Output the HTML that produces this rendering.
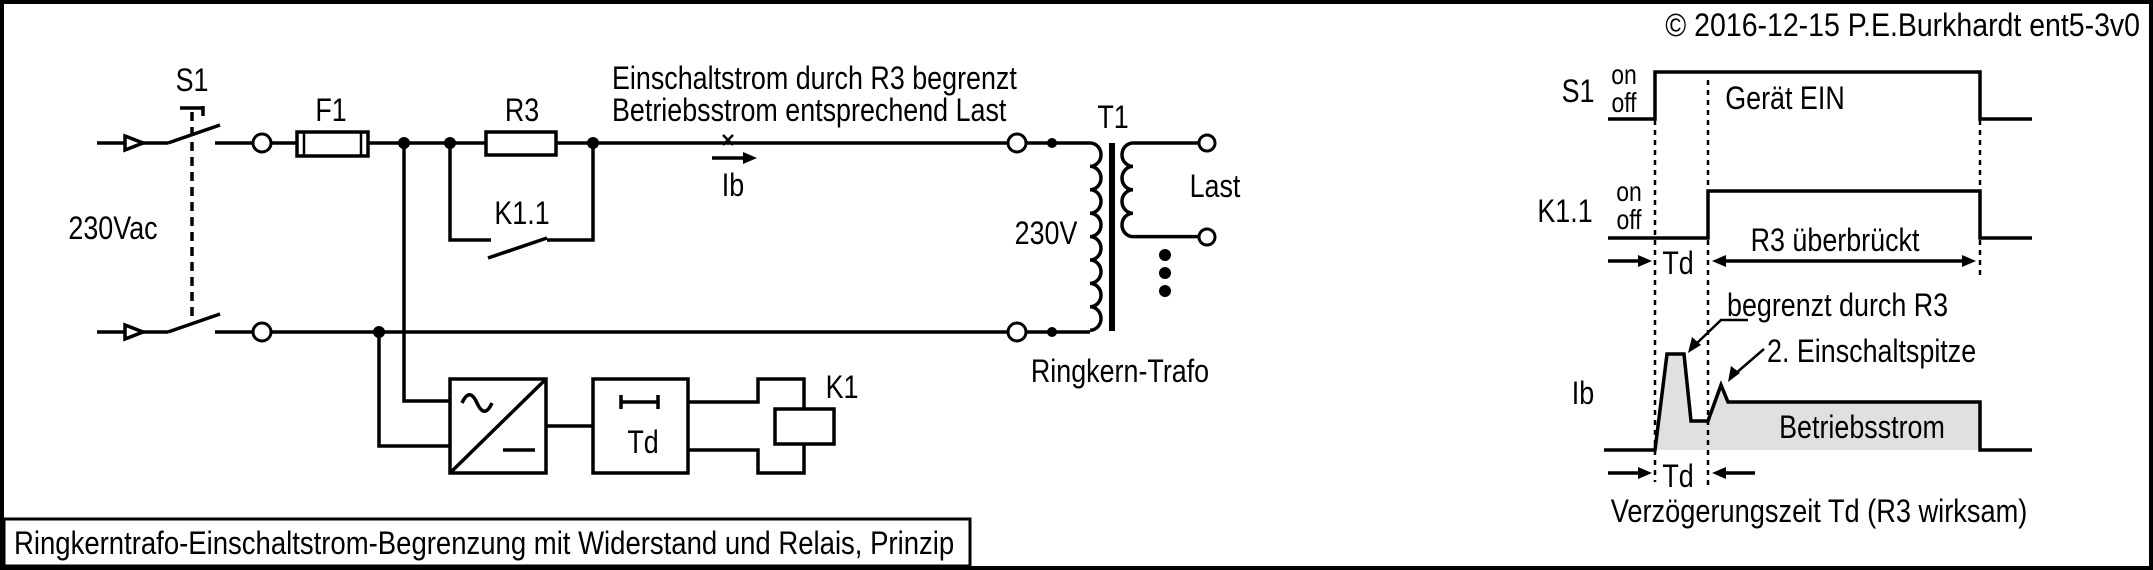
<!DOCTYPE html>
<html><head><meta charset="utf-8"><style>
html,body{margin:0;padding:0;background:#fff}
svg{display:block}
text{font-family:"Liberation Sans Narrow","Liberation Sans",sans-serif;fill:#000}
</style></head><body>
<svg width="2153" height="570" viewBox="0 0 2153 570" xmlns="http://www.w3.org/2000/svg">
<rect x="2" y="2" width="2149" height="566" fill="#fff" stroke="#000" stroke-width="4"/>
<g stroke="#000" stroke-width="3.5" fill="none" stroke-linecap="butt">
<line x1="97" y1="143" x2="168" y2="143"/><polygon points="125,136 143,143 125,150" fill="#fff"/>
<line x1="97" y1="332" x2="168" y2="332"/><polygon points="125,325 143,332 125,339" fill="#fff"/>
<line x1="168" y1="143" x2="220" y2="125"/>
<line x1="168" y1="332" x2="220" y2="314"/>
<line x1="192" y1="112" x2="192" y2="322" stroke-dasharray="9,6"/>
<line x1="180" y1="108" x2="204" y2="108"/><line x1="203" y1="106" x2="203" y2="116"/>
<line x1="215" y1="143" x2="253" y2="143"/>
<line x1="271" y1="143" x2="297" y2="143"/>
<rect x="297" y="132" width="71" height="24"/>
<line x1="304" y1="132" x2="304" y2="156" stroke-width="2.5"/><line x1="361" y1="132" x2="361" y2="156" stroke-width="2.5"/>
<line x1="368" y1="143" x2="486" y2="143"/>
<rect x="486" y="132" width="70" height="23"/>
<line x1="556" y1="143" x2="1008" y2="143"/>
<line x1="1026" y1="143" x2="1090" y2="143"/>
<line x1="215" y1="332" x2="253" y2="332"/>
<line x1="271" y1="332" x2="1008" y2="332"/>
<line x1="1026" y1="332" x2="1090" y2="332"/>
<polyline points="450,143 450,240 491,240"/>
<polyline points="593,143 593,240 547,240"/>
<line x1="488" y1="258" x2="547" y2="238"/>
<polyline points="404,143 404,401 450,401"/>
<polyline points="379,332 379,446 450,446"/>
<rect x="450" y="379" width="96" height="94"/>
<line x1="450" y1="473" x2="546" y2="379"/>
<path d="M462,403 c5,-11 10,-11 15,0 c5,11 10,11 15,0"/>
<line x1="503" y1="450" x2="535" y2="450"/>
<line x1="546" y1="426" x2="593" y2="426"/>
<rect x="593" y="379" width="95" height="94"/>
<line x1="621" y1="402" x2="658" y2="402"/><line x1="621" y1="395" x2="621" y2="409"/><line x1="658" y1="395" x2="658" y2="409"/>
<polyline points="688,402 758,402 758,379 804,379 804,409"/>
<polyline points="688,450 758,450 758,473 804,473 804,444"/>
<rect x="775" y="409" width="59" height="35"/>
<path d="M1090,143 a11,11.7 0 0 1 0,23.4 a11,11.7 0 0 1 0,23.4 a11,11.7 0 0 1 0,23.4 a11,11.7 0 0 1 0,23.4 a11,11.7 0 0 1 0,23.4 a11,11.7 0 0 1 0,23.4 a11,11.7 0 0 1 0,23.4 a11,11.7 0 0 1 0,23.4"/>
<line x1="1112" y1="143" x2="1112" y2="331" stroke-width="6"/>
<path d="M1133,143 a11,11.7 0 0 0 0,23.4 a11,11.7 0 0 0 0,23.4 a11,11.7 0 0 0 0,23.4 a11,11.7 0 0 0 0,23.4"/>
<line x1="1133" y1="143" x2="1199" y2="143"/>
<line x1="1133" y1="236.6" x2="1199" y2="236.6"/>
</g>
<g fill="#fff" stroke="#000" stroke-width="3">
<circle cx="262" cy="143" r="9"/><circle cx="262" cy="332" r="9"/>
<circle cx="1017" cy="143" r="9"/><circle cx="1017" cy="332" r="9"/>
<circle cx="1207" cy="143" r="8"/><circle cx="1207" cy="237" r="8"/>
</g>
<g fill="#000">
<circle cx="404" cy="143" r="6"/><circle cx="450" cy="143" r="6"/><circle cx="593" cy="143" r="6"/>
<circle cx="379" cy="332" r="6"/>
<circle cx="1052" cy="143" r="5"/><circle cx="1052" cy="332" r="5"/>
<circle cx="1165" cy="255" r="6"/><circle cx="1165" cy="273" r="6"/><circle cx="1165" cy="291" r="6"/>
</g>
<g stroke="#000" stroke-width="2.5"><line x1="723" y1="135" x2="733" y2="145"/><line x1="733" y1="135" x2="723" y2="145"/>
<line x1="712" y1="158" x2="745" y2="158" stroke-width="3.5"/></g>
<polygon points="743,152 757,158 743,164" fill="#000"/>
<g font-size="32">
<text transform="translate(192 91) scale(.84 1)" text-anchor="middle">S1</text>
<text transform="translate(331 121) scale(.84 1)" text-anchor="middle">F1</text>
<text transform="translate(522 121) scale(.84 1)" text-anchor="middle">R3</text>
<text transform="translate(522 224) scale(.84 1)" text-anchor="middle">K1.1</text>
<text transform="translate(612 89) scale(.84 1)">Einschaltstrom durch R3 begrenzt</text>
<text transform="translate(612 121) scale(.84 1)">Betriebsstrom entsprechend Last</text>
<text transform="translate(733 196) scale(.84 1)" text-anchor="middle">Ib</text>
<text transform="translate(113 239) scale(.84 1)" text-anchor="middle">230Vac</text>
<text transform="translate(1046 244) scale(.84 1)" text-anchor="middle">230V</text>
<text transform="translate(1113 128) scale(.84 1)" text-anchor="middle">T1</text>
<text transform="translate(1215 197) scale(.84 1)" text-anchor="middle">Last</text>
<text transform="translate(1120 382) scale(.84 1)" text-anchor="middle">Ringkern-Trafo</text>
<text transform="translate(643 453) scale(.84 1)" text-anchor="middle">Td</text>
<text transform="translate(842 398) scale(.84 1)" text-anchor="middle">K1</text>
<text transform="translate(2140 36) scale(.89 1)" text-anchor="end">© 2016-12-15 P.E.Burkhardt ent5-3v0</text>
</g>
<rect x="4" y="519" width="966" height="47" fill="#fff" stroke="#000" stroke-width="3"/>
<text transform="translate(14 554) scale(.86 1)" font-size="32">Ringkerntrafo-Einschaltstrom-Begrenzung mit Widerstand und Relais, Prinzip</text>
<path d="M1655,450 L1667,354 L1684,354 L1691,421 L1708,421 L1721,385 L1728,402 L1980,402 L1980,450 Z" fill="#e0e0e0"/>
<g stroke="#000" stroke-width="3.5" fill="none">
<polyline points="1608,119 1655,119 1655,72 1980,72 1980,119 2032,119"/>
<polyline points="1608,238 1708,238 1708,191 1980,191 1980,238 2032,238"/>
<polyline points="1604,450 1655,450 1667,354 1684,354 1691,421 1708,421 1721,385 1728,402 1980,402 1980,450 2032,450"/>
<g stroke-width="2.5" stroke-dasharray="5,5">
<line x1="1655" y1="120" x2="1655" y2="482"/>
<line x1="1708" y1="80" x2="1708" y2="488"/>
<line x1="1980" y1="120" x2="1980" y2="280"/>
</g>
<line x1="1608" y1="261" x2="1642" y2="261"/>
<line x1="1722" y1="261" x2="1966" y2="261"/>
<line x1="1608" y1="473" x2="1642" y2="473"/>
<line x1="1722" y1="473" x2="1755" y2="473"/>
<polyline points="1748,320 1721,320 1695,345" stroke-width="2.5"/>
<line x1="1764" y1="349" x2="1735" y2="374" stroke-width="2.5"/>
</g>
<g fill="#000">
<polygon points="1638,255 1652,261 1638,267"/>
<polygon points="1726,255 1712,261 1726,267"/>
<polygon points="1962,255 1976,261 1962,267"/>
<polygon points="1638,467 1652,473 1638,479"/>
<polygon points="1726,467 1712,473 1726,479"/>
<polygon points="1688,353 1692,337 1701,345"/>
<polygon points="1728,382 1731,366 1740,373"/>
</g>
<g font-size="32">
<text transform="translate(1578 102) scale(.84 1)" text-anchor="middle">S1</text>
<text transform="translate(1565 222) scale(.84 1)" text-anchor="middle">K1.1</text>
<text transform="translate(1785 109) scale(.84 1)" text-anchor="middle">Gerät EIN</text>
<text transform="translate(1835 251) scale(.84 1)" text-anchor="middle">R3 überbrückt</text>
<text transform="translate(1678 274) scale(.84 1)" text-anchor="middle">Td</text>
<text transform="translate(1727 316) scale(.84 1)">begrenzt durch R3</text>
<text transform="translate(1767 362) scale(.84 1)">2. Einschaltspitze</text>
<text transform="translate(1583 404) scale(.84 1)" text-anchor="middle">Ib</text>
<text transform="translate(1862 438) scale(.84 1)" text-anchor="middle">Betriebsstrom</text>
<text transform="translate(1678 487) scale(.84 1)" text-anchor="middle">Td</text>
<text transform="translate(1819 522) scale(.85 1)" text-anchor="middle">Verzögerungszeit Td (R3 wirksam)</text>
</g>
<g font-size="28">
<text transform="translate(1624 84) scale(.82 1)" text-anchor="middle">on</text>
<text transform="translate(1624 112) scale(.82 1)" text-anchor="middle">off</text>
<text transform="translate(1629 201) scale(.82 1)" text-anchor="middle">on</text>
<text transform="translate(1629 229) scale(.82 1)" text-anchor="middle">off</text>
</g>
</svg>
</body></html>
